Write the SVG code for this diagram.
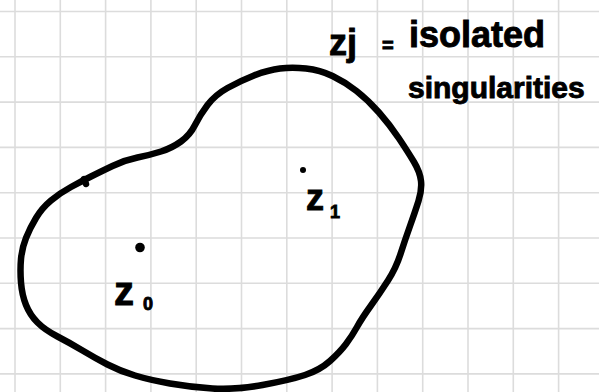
<svg xmlns="http://www.w3.org/2000/svg" width="599" height="392" viewBox="0 0 599 392">
  <style>
    .grid { stroke: #dcdcdc; stroke-width: 1.6; fill: none; }
    .ink { stroke: #000; stroke-width: 6.5; fill: none; stroke-linecap: round; stroke-linejoin: round; }
    .hand { font-family: "Liberation Sans", Arial, sans-serif; font-weight: bold; fill: #000; stroke: #000; stroke-width: 0.9; }
  </style>
  <rect width="599" height="392" fill="#fff"/>
  <g id="grid">
    <path class="grid" d="M15 0V392M60.3 0V392M105.6 0V392M150.9 0V392M196.2 0V392M241.5 0V392M286.8 0V392M332.1 0V392M377.4 0V392M422.7 0V392M468 0V392M513.3 0V392M558.6 0V392"/>
    <path class="grid" d="M0 11.5H599M0 56.8H599M0 102.1H599M0 147.4H599M0 192.7H599M0 238H599M0 283.3H599M0 328.6H599M0 373.9H599"/>
  </g>
  <g id="region">
    <path class="ink" d="M 112.5,166 Q 125,160 137.5,157.5 Q 150,155 161,151.5 Q 172,148 181,141.5 Q 190,135 195,125 Q 200,115 207.5,105 Q 215,95 227.5,88 Q 240,81 254,75.5 Q 268,70 280,68.5 Q 292,67 306,68.5 Q 320,70 332.5,76 Q 345,82 356.5,91 Q 368,100 379,112.5 Q 390,125 399,138.5 Q 408,152 414,162 Q 420,172 421,181 Q 422,190 418.5,201 Q 415,212 410,226 Q 405,240 400.5,254 Q 396,268 388,280.5 Q 380,293 371,305.5 Q 362,318 357,327 Q 352,336 346,344 Q 340,352 330,361 Q 320,370 305,375 Q 290,380 262.5,385 Q 235,390 212.5,388.5 Q 190,387 170,383.5 Q 150,380 135,375.5 Q 120,371 107.5,364.5 Q 95,358 82.5,350.5 Q 70,343 57.5,336.5 Q 45,330 37.5,322.5 Q 30,315 26,305 Q 22,295 21,282.5 Q 20,270 21,259 Q 22,248 26,238 Q 30,228 36,218 Q 42,208 51,200.5 Q 60,193 71,187 Q 82,181 91,176.5 Q 100,172 112.5,166 Z"/>
    <path class="ink" d="M84 179 L86 184" stroke-width="5"/>
  </g>
  <g id="point-z0">
    <circle cx="140" cy="247.5" r="4.8" fill="#000"/>
    <text class="hand" x="114" y="305" font-size="40">z<tspan x="143" y="310" font-size="18">0</tspan></text>
  </g>
  <g id="point-z1">
    <circle cx="303" cy="170" r="3" fill="#000"/>
    <text class="hand" x="306" y="210" font-size="36">z<tspan x="330" y="218" font-size="18">1</tspan></text>
  </g>
  <g id="annotation">
    <text class="hand" font-size="36"><tspan x="329" y="55">zj</tspan> <tspan x="382" y="52" font-size="20">=</tspan> <tspan x="409" y="47">isolated</tspan></text>
    <text class="hand" x="408" y="98" font-size="30">singularities</text>
  </g>
</svg>
